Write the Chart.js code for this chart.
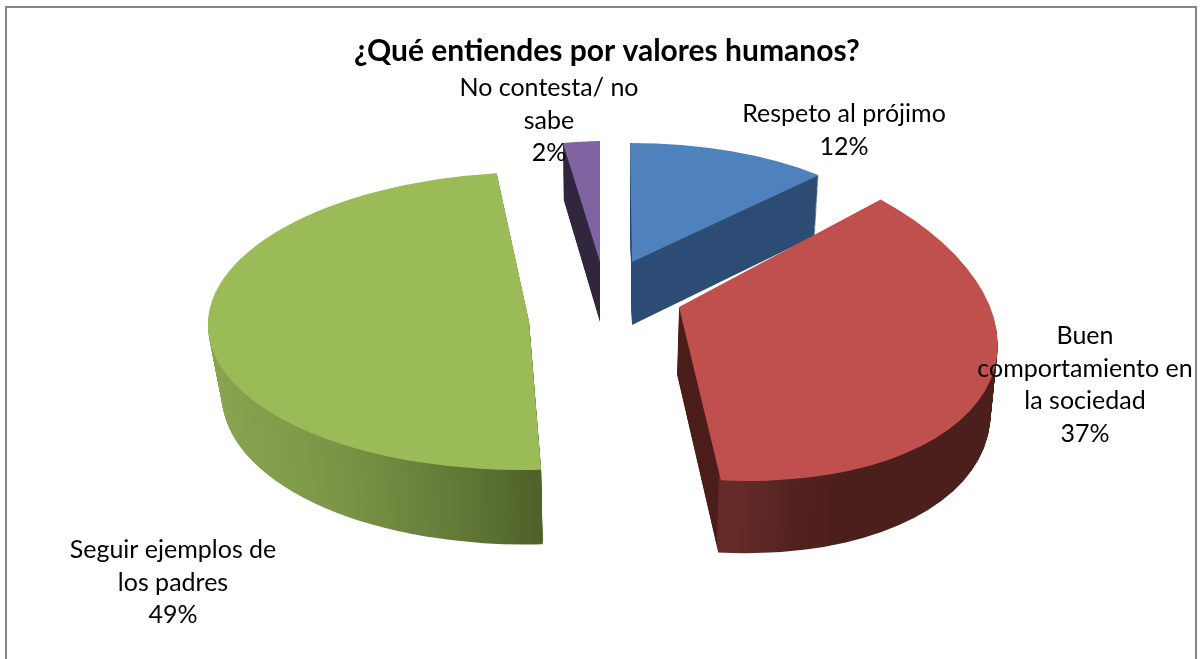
<!DOCTYPE html>
<html><head><meta charset="utf-8">
<style>html,body{margin:0;padding:0;background:#fff}#w{width:1200px;height:659px;position:relative}</style>
<script src="https://cdn.jsdelivr.net/npm/chart.js@4/dist/chart.umd.min.js"></script>
</head><body><div id="w"><canvas id="c" width="1200" height="659"></canvas></div>
<script>
const chartTitle = '¿Qué entiendes por valores humanos?';
const categories = ['Respeto al prójimo', 'Buen comportamiento en la sociedad', 'Seguir ejemplos de los padres', 'No contesta/ no sabe'];
const values = [12, 37, 49, 2];
const topColors = ['#4F81BD', '#C0504D', '#9BBB59', '#8064A2'];
const labelLines = [['Respeto al prójimo'], ['Buen', 'comportamiento en', 'la sociedad'], ['Seguir ejemplos de', 'los padres'], ['No contesta/ no', 'sabe']];

// Perspective view of each exploded slice: apex position, projection matrix, wall depth, wall shading
const views = [
  {ax:632, ay:262, a:275, b:2,  c:0,  d:119, depth:63, shrink:.02, grow:.03, dx:0, wall:[[0,'#2D4D75'],[1,'#2D4D75']]},
  {ax:679, ay:307, a:318, b:22, c:26, d:172, depth:67, shrink:.016, grow:.03, dx:-2, wallFrom:719, wallTo:1000,
    wall:[[0,'#642B28'],[.2,'#53221F'],[.35,'#4D1F1C'],[1,'#4D1F1C']], wallInner:'#4D1F1C'},
  {ax:529, ay:321, a:321, b:-8, c:0,  d:149, depth:70, shrink:.037, grow:.03, dx:2, wallFrom:208, wallTo:541,
    wall:[[0,'#8AA550'],[.4,'#7A9546'],[.7,'#677F3A'],[.9,'#586D30'],[1,'#4F6229']]},
  {ax:600, ay:262, a:296, b:0,  c:-8, d:121, depth:60, shrink:.02, grow:.03, dx:0, wall:[[0,'#32283F'],[1,'#32283F']]}
];
const drawOrder = [0, 3, 2, 1];
const labelPos = [[844,114],[1085,336],[173,550],[549,88]];
const lineStep = 32.5;
const labelFont = '400 25px Lato, "Open Sans", sans-serif';

const pie3d = {
  id: 'pie3d',
  beforeDraw(chart) {
    const ctx = chart.ctx;
    ctx.save();
    ctx.fillStyle = '#fff';
    ctx.fillRect(0, 0, chart.width, chart.height);
    ctx.strokeStyle = '#868686';
    ctx.lineWidth = 2;
    ctx.strokeRect(6, 7, 1190, 670);
    ctx.restore();
  },
  beforeDatasetsDraw(chart) {
    const ctx = chart.ctx;
    const arcs = chart.getDatasetMeta(0).data;
    drawOrder.forEach(i => {
      const arc = arcs[i], v = views[i], R = arc.outerRadius;
      const place = (t) => {
        const s = 1 - v.shrink * t, g = 1 + v.grow * t;
        ctx.setTransform(v.a*s/R, v.c*g/R, v.b*s/R, v.d*g/R,
          v.ax + v.dx*t - (v.a*s*arc.x + v.b*s*arc.y)/R,
          v.ay + v.depth*t - (v.c*g*arc.x + v.d*g*arc.y)/R);
      };
      const painted = (fill) => {
        const a = Object.create(arc);
        a.options = Object.assign({}, arc.options, {backgroundColor: fill, borderWidth: 0, offset: 0});
        return a;
      };
      let wallFill = v.wall[0][1];
      if (v.wallFrom !== undefined) {
        const x0 = arc.x + (v.wallFrom - v.ax) * R / v.a, x1 = arc.x + (v.wallTo - v.ax) * R / v.a;
        wallFill = ctx.createLinearGradient(x0, 0, x1, 0);
        v.wall.forEach(st => wallFill.addColorStop(st[0], st[1]));
      }
      const wall = painted(wallFill);
      const inner = v.wallInner ? painted(v.wallInner) : null;
      ctx.save();
      for (let k = v.depth; k >= 1; k--) {
        const t = k / v.depth;
        if (inner) {
          const split = v.wallFrom + v.dx * t;
          ctx.save();
          ctx.setTransform(1,0,0,1,0,0);
          ctx.beginPath();
          ctx.rect(0, 0, split, 659);
          ctx.clip();
          place(t);
          inner.draw(ctx);
          ctx.restore();
          ctx.save();
          ctx.setTransform(1,0,0,1,0,0);
          ctx.beginPath();
          ctx.rect(split, 0, 600, 659);
          ctx.clip();
          place(t);
          wall.draw(ctx);
          ctx.restore();
        } else {
          place(t);
          wall.draw(ctx);
        }
      }
      place(0);
      arc.draw(ctx);
      ctx.restore();
    });
    return false;
  },
  afterDraw(chart) {
    const ctx = chart.ctx;
    const total = values.reduce((s, x) => s + x, 0);
    ctx.save();
    ctx.setTransform(1,0,0,1,0,0);
    ctx.fillStyle = '#000';
    ctx.font = labelFont;
    ctx.textAlign = 'center';
    ctx.textBaseline = 'middle';
    labelLines.forEach((lines, i) => {
      const all = lines.concat([Math.round(values[i] / total * 100) + '%']);
      all.forEach((ln, j) => ctx.fillText(ln, labelPos[i][0], labelPos[i][1] + j * lineStep));
    });
    ctx.restore();
  }
};

new Chart(document.getElementById('c'), {
  type: 'pie',
  data: {
    labels: categories,
    datasets: [{ data: values, backgroundColor: topColors, borderWidth: 0 }]
  },
  options: {
    responsive: false,
    animation: false,
    layout: { padding: { left: 14 } },
    plugins: {
      legend: { display: false },
      tooltip: { enabled: false },
      title: {
        display: true,
        text: chartTitle,
        color: '#000',
        font: { family: 'Lato, "Open Sans", sans-serif', size: 30, weight: '700' },
        padding: { top: 33, bottom: 5 }
      }
    }
  },
  plugins: [pie3d]
});
</script></body></html>
